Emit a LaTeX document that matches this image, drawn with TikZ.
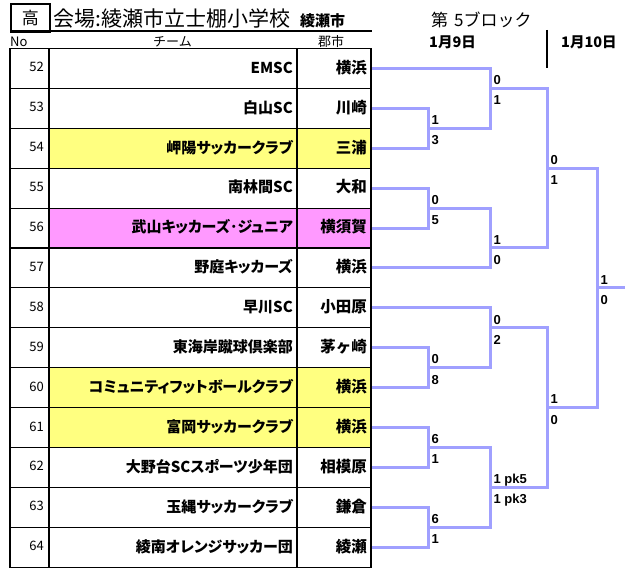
\documentclass[tikz,border=0pt]{standalone}
\usepackage{fontspec}
\setmainfont{Noto Sans CJK JP}
\newfontfamily\jpfont{Noto Sans CJK JP}
\newfontfamily\jppfont{Noto Sans CJK JP}[RawFeature=+palt]
\newfontfamily\scfont{Liberation Sans}
\definecolor{brk}{RGB}{160,160,255}
\definecolor{yel}{RGB}{255,255,128}
\definecolor{pnk}{RGB}{255,153,255}
\begin{document}
\begin{tikzpicture}[x=1pt,y=-1pt,
  tbl/.style={line width=1.1pt},
  br/.style={draw=brk, line width=3pt},
  nolbl/.style={anchor=base east, inner sep=0pt, font=\jpfont\fontsize{13}{13}\selectfont},
  teamlbl/.style={anchor=base east, inner sep=0pt, font=\jppfont\bfseries\fontsize{15}{15}\selectfont},
  citylbl/.style={anchor=base east, inner sep=0pt, font=\jpfont\bfseries\fontsize{15.5}{15.5}\selectfont},
  scu/.style={anchor=base west, inner sep=0pt, font=\scfont\bfseries\fontsize{13}{13}\selectfont, xshift=3.3pt, yshift=3.8pt},
  scd/.style={anchor=base west, inner sep=0pt, font=\scfont\bfseries\fontsize{13}{13}\selectfont, xshift=3.3pt, yshift=-16.4pt},
  hdr/.style={anchor=base west, inner sep=0pt, font=\jpfont\fontsize{13}{13}\selectfont},
  day/.style={anchor=base west, inner sep=0pt, font=\jpfont\bfseries\fontsize{14.5}{14.5}\selectfont}]
\useasboundingbox[fill=white] (0,0) rectangle (634,577);
% row fills
\fill[yel] (49,128.3) rectangle (371,168.2);
\fill[pnk] (49,208.1) rectangle (371,248);
\fill[yel] (49,367.7) rectangle (371,447.5);
% table grid
\draw[tbl] (10,48.5) rectangle (371,567.2);
\draw[tbl] (49,48.5) -- (49,567.2);
\draw[tbl] (297,48.5) -- (297,567.2);
\foreach \j in {2,4,...,24}{
  \draw[tbl] (10,48.5+19.95*\j) -- (371,48.5+19.95*\j);
}
% title
\node[draw, line width=1.6pt, minimum width=39pt, minimum height=28pt, inner sep=0pt, anchor=north west,
      font=\jpfont\fontsize{17}{17}\selectfont] (koukou) at (10,3) {高};
\draw[line width=1.1pt] (10,31) -- (372,31);
\node[anchor=base west, inner sep=0pt, font=\jpfont\fontsize{21}{21}\selectfont] (venue) at (53,26.5) {会場:綾瀬市立士棚小学校};
\node[anchor=base west, inner sep=0pt, font=\jpfont\bfseries\fontsize{15}{15}\selectfont] (vcity) at (300,27) {綾瀬市};
\node[hdr] (hno) at (10,47) {No};
\node[hdr] (hteam) at (153,46.5) {チーム};
\node[hdr] (hcity) at (318,46.5) {郡市};
\node[anchor=base west, inner sep=0pt, font=\jpfont\fontsize{17}{17}\selectfont] (block) at (431,27) {第\hspace{6pt}5ブロック};
\node[day] (d1) at (429,47.5) {1月9日};
\node[day] (d2) at (561,47.5) {1月10日};
\coordinate (sept) at (547,30);
\coordinate (sepb) at (547,68.5);
\draw[line width=2pt] (sept) -- (sepb);
% rows
\foreach \k/\n/\t/\c in {0/52/EMSC/横浜, 1/53/白山SC/川崎, 2/54/岬陽サッカークラブ/三浦,
   3/55/南林間SC/大和, 4/56/武山キッカーズ･ジュニア/横須賀, 5/57/野庭キッカーズ/横浜,
   6/58/早川SC/小田原, 7/59/東海岸蹴球倶楽部/茅ヶ崎, 8/60/コミュニティフットボールクラブ/横浜,
   9/61/富岡サッカークラブ/横浜, 10/62/大野台SCスポーツ少年団/相模原, 11/63/玉縄サッカークラブ/鎌倉,
   12/64/綾南オレンジサッカー団/綾瀬}{
  \pgfmathsetmacro{\yc}{68.45+39.9*\k}
  \node[nolbl] (no\n) at (44,\yc+3.5) {\n};
  \node[teamlbl] (team\n) at (293,\yc+4.8) {\t};
  \node[citylbl] (city\n) at (367,\yc+4.8) {\c};
  \coordinate (p\n) at (372,\yc);
}
% bracket junctions
\coordinate (m1) at (428,128.3);
\coordinate (m2) at (428,208.1);
\coordinate (m3) at (428,367.7);
\coordinate (m4) at (428,447.5);
\coordinate (m5) at (428,527.3);
\coordinate (n1) at (490,88.4);
\coordinate (n2) at (490,248);
\coordinate (n3) at (490,327.8);
\coordinate (n4) at (490,487.4);
\coordinate (s1) at (547,168.2);
\coordinate (s2) at (547,407.6);
\coordinate (fin) at (597,287.9);
\coordinate (finend) at (625,287.9);
% bracket lines
\draw[br] (p53) -| (m1) |- (p54);
\draw[br] (p55) -| (m2) |- (p56);
\draw[br] (p59) -| (m3) |- (p60);
\draw[br] (p61) -| (m4) |- (p62);
\draw[br] (p63) -| (m5) |- (p64);
\draw[br] (p52) -| (n1) |- (m1);
\draw[br] (m2) -| (n2) |- (p57);
\draw[br] (p58) -| (n3) |- (m3);
\draw[br] (m4) -| (n4) |- (m5);
\draw[br] (n1) -| (s1) |- (n2);
\draw[br] (n3) -| (s2) |- (n4);
\draw[br] (s1) -| (fin) |- (s2);
\draw[br] (fin) -- (finend);
% scores
\node[scu] (m1a) at (m1) {1}; \node[scd] (m1b) at (m1) {3};
\node[scu] (m2a) at (m2) {0}; \node[scd] (m2b) at (m2) {5};
\node[scu] (m3a) at (m3) {0}; \node[scd] (m3b) at (m3) {8};
\node[scu] (m4a) at (m4) {6}; \node[scd] (m4b) at (m4) {1};
\node[scu] (m5a) at (m5) {6}; \node[scd] (m5b) at (m5) {1};
\node[scu] (n1a) at (n1) {0}; \node[scd] (n1b) at (n1) {1};
\node[scu] (n2a) at (n2) {1}; \node[scd] (n2b) at (n2) {0};
\node[scu] (n3a) at (n3) {0}; \node[scd] (n3b) at (n3) {2};
\node[scu] (n4a) at (n4) {1 pk5}; \node[scd] (n4b) at (n4) {1 pk3};
\node[scu] (s1a) at (s1) {0}; \node[scd] (s1b) at (s1) {1};
\node[scu] (s2a) at (s2) {1}; \node[scd] (s2b) at (s2) {0};
\node[scu] (fa) at (fin) {1}; \node[scd] (fb) at (fin) {0};
\end{tikzpicture}
\end{document}
